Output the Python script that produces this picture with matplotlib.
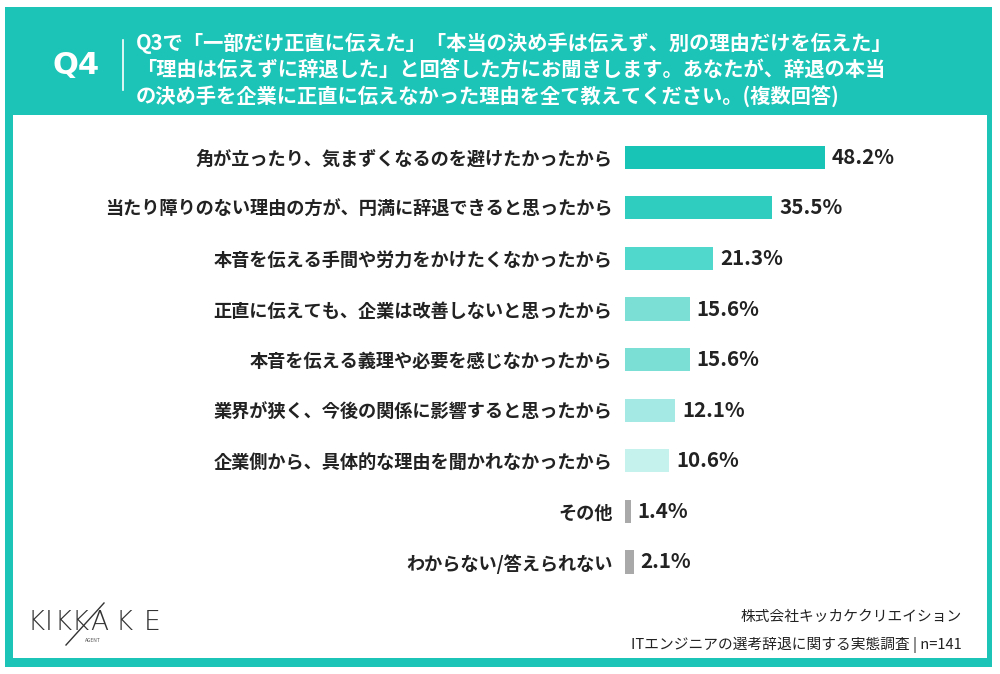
import matplotlib
matplotlib.use("Agg")
import matplotlib.pyplot as plt
from matplotlib.patches import Rectangle
from matplotlib.lines import Line2D

plt.rcParams['font.family'] = ['Noto Sans CJK JP', 'DejaVu Sans']

categories = [
    "角が立ったり、気まずくなるのを避けたかったから",
    "当たり障りのない理由の方が、円満に辞退できると思ったから",
    "本音を伝える手間や労力をかけたくなかったから",
    "正直に伝えても、企業は改善しないと思ったから",
    "本音を伝える義理や必要を感じなかったから",
    "業界が狭く、今後の関係に影響すると思ったから",
    "企業側から、具体的な理由を聞かれなかったから",
    "その他",
    "わからない/答えられない",
]
values = [48.2, 35.5, 21.3, 15.6, 15.6, 12.1, 10.6, 1.4, 2.1]
colors = ["#17C4B6", "#2ECDC0", "#50D8CC", "#7CDFD6", "#7CDFD6",
          "#A4E9E3", "#C6F2EE", "#A9A9A9", "#A9A9A9"]

title_lines = [
    "Q3で「一部だけ正直に伝えた」「本当の決め手は伝えず、別の理由だけを伝えた」",
    "「理由は伝えずに辞退した」と回答した方にお聞きします。あなたが、辞退の本当",
    "の決め手を企業に正直に伝えなかった理由を全て教えてください。(複数回答)",
]
question_no = "Q4"
footer_lines = ["株式会社キッカケクリエイション", "ITエンジニアの選考辞退に関する実態調査 | n=141"]

W, H = 1000, 674
TEAL = "#1CC4B7"
fig = plt.figure(figsize=(W / 100, H / 100), dpi=100)
fig.patch.set_facecolor("white")

def fx(x):
    return x / W

def fy(y):
    return 1 - y / H

# frame
fig.patches.append(Rectangle((fx(5), fy(667)), fx(992 - 5), (667 - 7) / H,
                             transform=fig.transFigure, facecolor=TEAL, edgecolor="none", zorder=-2))
fig.patches.append(Rectangle((fx(13), fy(658)), fx(987 - 13), (658 - 115) / H,
                             transform=fig.transFigure, facecolor="white", edgecolor="none", zorder=-1))

# header
fig.text(fx(76), fy(66), question_no, color="white", fontsize=22, fontweight="bold",
         ha="center", va="center", family=["DejaVu Sans"])
fig.add_artist(Line2D([fx(123), fx(123)], [fy(40), fy(90)], transform=fig.transFigure,
                      color="white", lw=1.2))
for i, line in enumerate(title_lines):
    fig.text(fx(136), fy(43 + 27 * i), line, color="white", fontsize=14.6,
             fontweight="bold", ha="left", va="center")

# bars
ax = fig.add_axes([0.625, 1 - 587.3 / H, 0.25, 455.4 / H])
ax.set_zorder(2)
ypos = list(range(len(categories)))
ax.barh(ypos, values, height=0.46, color=colors, zorder=2)
ax.set_xlim(0, 0.25 * W / 4.149)
ax.set_ylim(len(categories) - 0.5, -0.5)
ax.set_yticks(ypos)
ax.set_yticklabels(categories, fontsize=13.1, fontweight="bold", color="#222222")
ax.tick_params(axis="y", length=0, pad=9)
ax.set_xticks([])
for s in ax.spines.values():
    s.set_visible(False)
ax.patch.set_alpha(0)
for y, v in zip(ypos, values):
    ax.annotate(f"{v:.1f}%", xy=(v, y), xytext=(5, 0), textcoords="offset points",
                ha="left", va="center", fontsize=14.8, fontweight="bold", color="#222222")

# footer
fig.text(fx(962), fy(617), footer_lines[0], ha="right", va="center", fontsize=10.6, color="#222222")
fig.text(fx(962), fy(645), footer_lines[1], ha="right", va="center", fontsize=10.6, color="#222222")

# logo
logo = "KIKKAKE"
xs = [36, 49, 63, 80, 99, 124, 152]
for ch, x in zip(logo, xs):
    fig.text(fx(x), fy(623), ch, ha="center", va="center", fontsize=19, fontweight="light",
             color="#333333", family=["DejaVu Sans"])
fig.add_artist(Line2D([fx(66), fx(104)], [fy(645), fy(603)], transform=fig.transFigure,
                      color="#333333", lw=1.0))
fig.text(fx(93), fy(641), "AGENT", ha="center", va="center", fontsize=3.5, color="#555555")

fig.savefig("out.png", dpi=100)
